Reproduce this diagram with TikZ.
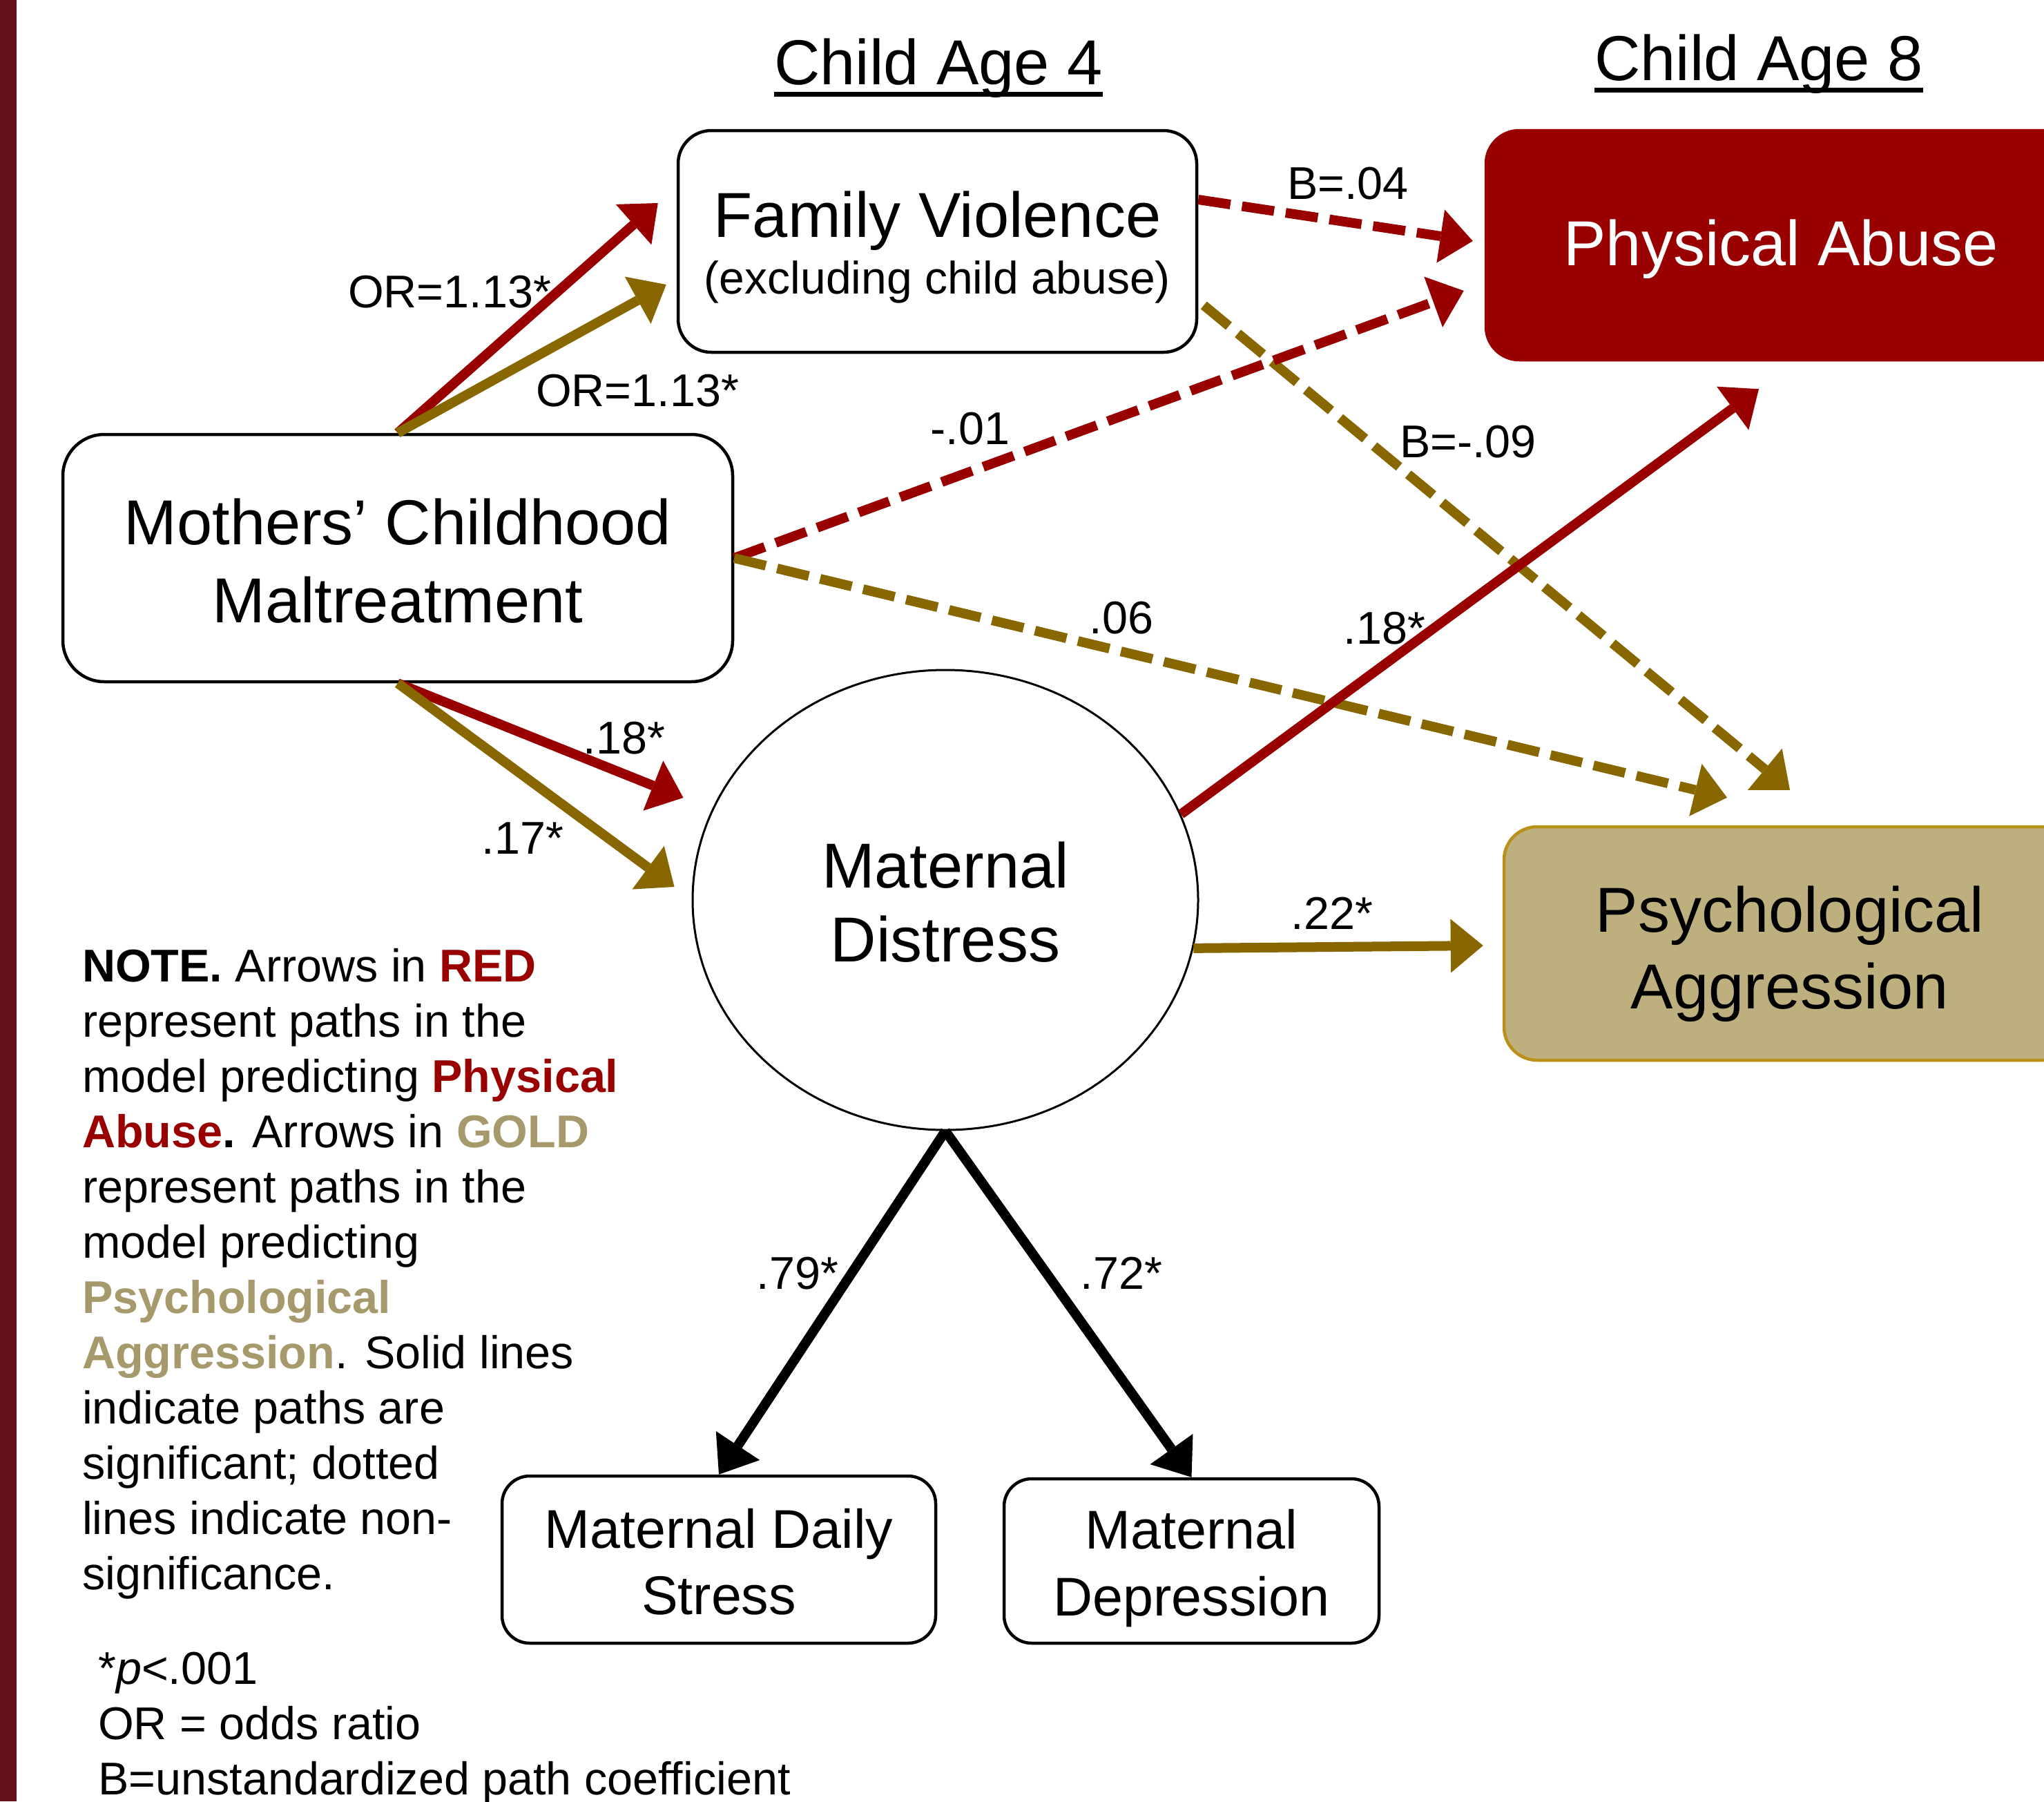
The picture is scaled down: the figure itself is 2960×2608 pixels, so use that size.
\documentclass[tikz,border=0pt]{standalone}
\usepackage{fontspec}
\setmainfont{Liberation Sans}
\usetikzlibrary{arrows.meta,shapes.geometric}
\definecolor{pred}{HTML}{990000}
\definecolor{pgold}{HTML}{886600}
\definecolor{gtxt}{HTML}{A6996C}
\definecolor{pfill}{HTML}{BDB07E}
\definecolor{pborder}{HTML}{B8901A}
\definecolor{barc}{HTML}{651119}
\newcommand\fbig{\fontsize{92pt}{110pt}\selectfont}
\newcommand\fmd{\fontsize{79pt}{95pt}\selectfont}
\newcommand\fsm{\fontsize{66.5pt}{80pt}\selectfont}
\newcommand\fsub{\fontsize{66pt}{79pt}\selectfont}
\tikzset{
  box/.style={draw, line width=4.5pt, rounded corners=48pt, inner sep=0pt},
  txt/.style={inner sep=0pt, anchor=base},
  bigt/.style={txt, font=\fbig},
  mdt/.style={txt, font=\fmd},
  lab/.style={txt, font=\fsm},
  sol/.style={line width=14pt, -{Triangle[length=47pt,width=78pt,line width=0pt]}},
  dsh/.style={sol, dash pattern=on 47pt off 17pt},
  blk/.style={line width=14pt, -{Triangle[length=50pt,width=76pt,line width=0pt]}},
}
\begin{document}
\begin{tikzpicture}[x=1pt,y=-1pt]
\useasboundingbox (0,0) rectangle (2960,2608);
\clip (0,0) rectangle (2960,2608);
\fill[barc] (0,0) rectangle (24,2608);

% headings
\node[bigt] (h4) at (1359,122) {Child Age 4};
\draw[line width=7pt] ([yshift=-14pt]h4.base west) -- ([yshift=-14pt]h4.base east);
\node[bigt] (h8) at (2547,116) {Child Age 8};
\draw[line width=7pt] ([yshift=-14pt]h8.base west) -- ([yshift=-14pt]h8.base east);

% boxes
\node[box, minimum width=751pt, minimum height=321pt] (fv) at (1357.5,349.5) {};
\node[bigt] (fvt1) at (1357.5,343) {Family Violence};
\node[txt, font=\fsub] (fvt2) at (1357.5,425) {(excluding child abuse)};

\node[box, draw=pred, fill=pred, minimum width=854pt, minimum height=332pt] (pa) at (2579,355) {};
\node[bigt, text=white] (pat) at (2579,384) {Physical Abuse};

\node[box, minimum width=970pt, minimum height=358pt, rounded corners=60pt] (moth) at (576,808) {};
\node[bigt] (mt1) at (576,788) {Mothers’ Childhood};
\node[bigt] (mt2) at (576,901) {Maltreatment};

\node[draw, ellipse, line width=3pt, inner sep=0pt, minimum width=732pt, minimum height=666pt] (dist) at (1369,1303) {};
\node[bigt] (dt1) at (1369,1285) {Maternal};
\node[bigt] (dt2) at (1369,1392) {Distress};

\node[box, draw=pborder, fill=pfill, minimum width=828pt, minimum height=338pt] (psy) at (2592,1366) {};
\node[bigt] (pt1) at (2592,1349) {Psychological};
\node[bigt] (pt2) at (2592,1460) {Aggression};

\node[box, minimum width=628pt, minimum height=242pt, rounded corners=40pt] (mds) at (1041,2258) {};
\node[mdt] (st1) at (1041,2241) {Maternal Daily};
\node[mdt] (st2) at (1041,2337) {Stress};

\node[box, minimum width=543pt, minimum height=238pt, rounded corners=40pt] (md) at (1725.5,2260) {};
\node[mdt] (dp1) at (1725.5,2242) {Maternal};
\node[mdt] (dp2) at (1725.5,2339) {Depression};

% arrows
\draw[sol, pred] (moth.north) -- ([shift={(-27,-55.5)}]fv.west);
\draw[sol, pgold] (moth.north) -- ([shift={(-15,62.5)}]fv.west);
\draw[dsh, pred] ([shift={(0,-60.5)}]fv.east) -- ([shift={(-17,-6)}]pa.west);
\draw[dsh, pgold] ([shift={(8,92.5)}]fv.east) -- ([shift={(0,-51)}]psy.north);
\draw[dsh, pred] (moth.east) -- ([shift={(-30,66)}]pa.west);
\draw[dsh, pgold] (moth.east) -- ([shift={(-91,-40)}]psy.north);
\draw[sol, pred] (moth.south) -- ([shift={(-12,-148)}]dist.west);
\draw[sol, pgold] (moth.south) -- ([shift={(-25,-19)}]dist.west);
\draw[sol, pred] (dist.20) -- ([shift={(-32,40)}]pa.south);
\draw[sol, pgold] (dist.-11) -- ([shift={(-28,3)}]psy.west);
\draw[blk] (dist.south) -- (mds.north);
\draw[blk] (dist.south) -- (md.north);

% labels
\node[lab] (l1) at (651,445) {OR=1.13*};
\node[lab] (l2) at (923,588) {OR=1.13*};
\node[lab] (l3) at (1952,288) {B=.04};
\node[lab] (l4) at (1405,643) {-.01};
\node[lab] (l5) at (2126,662) {B=-.09};
\node[lab] (l6) at (1624,917) {.06};
\node[lab] (l7) at (2005,932) {.18*};
\node[lab] (l8) at (904,1091) {.18*};
\node[lab] (l9) at (757,1236) {.17*};
\node[lab] (l10) at (1929,1345) {.22*};
\node[lab] (l11) at (1155,1866) {.79*};
\node[lab] (l12) at (1624,1866) {.72*};

% note
\node[anchor=north west, inner sep=0pt, align=left, font=\fsm] (note) at (119,1373) {\textbf{NOTE.} Arrows in \textcolor{pred}{\textbf{RED}}\\
represent paths in the\\
model predicting \textcolor{pred}{\textbf{Physical}}\\
\textcolor{pred}{\textbf{Abuse}}\textbf{.} Arrows in \textcolor{gtxt}{\textbf{GOLD}}\\
represent paths in the\\
model predicting\\
\textcolor{gtxt}{\textbf{Psychological}}\\
\textcolor{gtxt}{\textbf{Aggression}}. Solid lines\\
indicate paths are\\
significant; dotted\\
lines indicate non-\\
significance.};

\node[anchor=north west, inner sep=0pt, align=left, font=\fsm] (foot) at (142,2392) {*\textit{p}<.001\\
OR = odds ratio\\
B=unstandardized path coefficient};
\end{tikzpicture}
\end{document}
